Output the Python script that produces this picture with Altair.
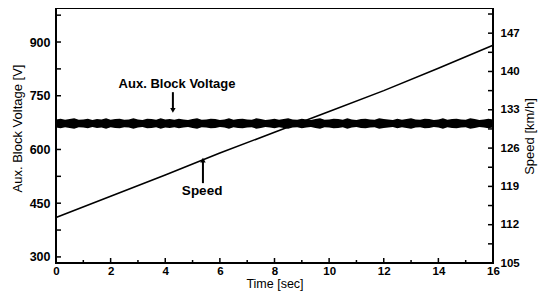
import altair as alt
import pandas as pd

# ---------------- data ----------------
volt_time = [i / 6 for i in range(97)]
volt_upper = [684, 686, 683, 685, 687, 683, 684, 686, 682, 685, 684, 687, 683, 685, 686, 683,
              684, 687, 684, 682, 686, 685, 683, 687, 684, 685, 683, 686, 684, 682, 685, 687,
              683, 684, 686, 685, 682, 684, 687, 683, 685, 686, 684, 683, 687, 685, 682, 684,
              686, 683, 685, 687, 684, 683, 686, 684, 682, 685, 687, 683, 684, 686, 685, 683,
              687, 684, 682, 685, 686, 684, 683, 687, 685, 684, 682, 686, 683, 685, 687, 684,
              683, 686, 685, 682, 684, 687, 683, 685, 686, 684, 683, 687, 685, 682, 684, 686, 684]
volt_lower = [661, 659, 662, 660, 658, 662, 661, 659, 663, 660, 661, 658, 662, 660, 659, 662,
              661, 658, 661, 663, 659, 660, 662, 658, 661, 660, 662, 659, 661, 663, 660, 658,
              662, 661, 659, 660, 663, 661, 658, 662, 660, 659, 661, 662, 658, 660, 663, 661,
              659, 662, 660, 658, 661, 662, 659, 661, 663, 660, 658, 662, 661, 659, 660, 662,
              658, 661, 663, 660, 659, 661, 662, 658, 660, 661, 663, 659, 662, 660, 658, 661,
              662, 659, 660, 663, 661, 658, 662, 660, 659, 661, 662, 658, 660, 663, 661, 659, 661]

speed_time = [0, 2, 4, 6, 8, 10, 12, 14, 16]
speed_kmh = [113.3, 117.2, 121.1, 125.1, 128.9, 132.7, 136.5, 140.6, 144.8]

x_label_vals = [0, 2, 4, 6, 8, 10, 12, 14, 16]
x_minor_vals = [1, 3, 5, 7, 9, 11, 13, 15]
yl_label_vals = [300, 450, 600, 750, 900]
yl_tick_vals = [300, 375, 450, 525, 600, 675, 750, 825, 900, 975]
yr_label_vals = [105, 112, 119, 126, 133, 140, 147]
yr_tick_vals = [105, 108.5, 112, 115.5, 119, 122.5, 126, 129.5, 133, 136.5, 140, 143.5, 147, 150.5]

ann_text = ["Aux. Block Voltage", "Speed"]
ann_t = [4.43, 5.35]
ann_v = [782, 485]

# ---------------- tables ----------------
df_v = pd.DataFrame({"t": volt_time, "hi": volt_upper, "lo": volt_lower})
df_s = pd.DataFrame({"t": speed_time, "s": speed_kmh})
df_xmaj = pd.DataFrame({"t": x_label_vals})
df_xmin = pd.DataFrame({"t": x_minor_vals})
df_ylt = pd.DataFrame({"v": yl_tick_vals})
df_yrt = pd.DataFrame({"s": yr_tick_vals})
df_ann1 = pd.DataFrame({"t": [ann_t[0]], "v": [ann_v[0]], "label": [ann_text[0]]})
df_ann2 = pd.DataFrame({"t": [ann_t[1]], "v": [ann_v[1]], "label": [ann_text[1]]})
df_arrow_shaft = pd.DataFrame({"t": [4.28, 5.38], "v": [760, 506], "v2": [712, 566]})
df_arrow_down = pd.DataFrame({"t": [4.28], "v": [709]})
df_arrow_up = pd.DataFrame({"t": [5.38], "v": [570]})

W, H = 437, 255
FONT = "Liberation Sans"

x_scale = alt.Scale(domain=[0, 16], nice=False, zero=False)
yl_scale = alt.Scale(domain=[283, 995], nice=False, zero=False)
yr_scale = alt.Scale(domain=[105, 151.6], nice=False, zero=False)

x_axis = alt.Axis(values=x_label_vals, ticks=False, domain=False, grid=False,
                  title="Time [sec]", labelFont=FONT, labelFontSize=11.5, labelFontWeight="bold",
                  labelPadding=2, labelFlush=False, labelOverlap=False, labelColor="black",
                  titleFont=FONT, titleFontSize=12.5, titleFontWeight="normal", titleColor="black",
                  titleY=20.5, titleBaseline="middle", format="d")
yl_axis = alt.Axis(values=yl_label_vals, ticks=False, domain=False, grid=False,
                   title="Aux. Block Voltage [V]", labelFont=FONT, labelFontSize=12.5,
                   labelFontWeight="bold", labelPadding=6, labelColor="black", labelFlush=False,
                   titleFont=FONT, titleFontSize=13, titleFontWeight="normal", titleColor="black",
                   titleX=-39, titleY=120, titleAngle=270, titleBaseline="middle", titleAlign="center",
                   format="d")
yr_axis = alt.Axis(orient="right", values=yr_label_vals, ticks=False, domain=False, grid=False,
                   title="Speed [km/h]", labelFont=FONT, labelFontSize=11.5, labelFontWeight="bold",
                   labelPadding=7, labelColor="black", labelFlush=False,
                   titleFont=FONT, titleFontSize=13, titleFontWeight="normal", titleColor="black",
                   titleX=36, titleY=128, titleAngle=270, titleBaseline="middle", titleAlign="center",
                   format="d")

X = alt.X("t:Q", scale=x_scale, axis=x_axis)

volt = alt.Chart(df_v).mark_area(color="black", interpolate="linear").encode(
    x=X, y=alt.Y("hi:Q", scale=yl_scale, axis=yl_axis), y2="lo:Q")

yl_ticks = alt.Chart(df_ylt).mark_rule(color="black", strokeWidth=1.5).encode(
    y=alt.Y("v:Q", scale=yl_scale, axis=yl_axis), x=alt.value(0), x2=alt.value(5))

x_major = alt.Chart(df_xmaj).mark_rule(color="black", strokeWidth=1.5).encode(
    x=X, y=alt.value(H), y2=alt.value(H - 5))
x_minor = alt.Chart(df_xmin).mark_rule(color="black", strokeWidth=1.5).encode(
    x=X, y=alt.value(H), y2=alt.value(H - 3))

ann1 = alt.Chart(df_ann1).mark_text(font=FONT, fontSize=13, fontWeight="bold", color="black").encode(
    x=X, y=alt.Y("v:Q", scale=yl_scale, axis=yl_axis), text="label:N")
ann2 = alt.Chart(df_ann2).mark_text(font=FONT, fontSize=13.5, fontWeight="bold", color="black").encode(
    x=X, y=alt.Y("v:Q", scale=yl_scale, axis=yl_axis), text="label:N")
shafts = alt.Chart(df_arrow_shaft).mark_rule(color="black", strokeWidth=2).encode(
    x=X, y=alt.Y("v:Q", scale=yl_scale, axis=yl_axis), y2="v2:Q")
head_down = alt.Chart(df_arrow_down).mark_point(shape="triangle-down", filled=True, color="black",
                                                size=30, opacity=1).encode(
    x=X, y=alt.Y("v:Q", scale=yl_scale, axis=yl_axis))
head_up = alt.Chart(df_arrow_up).mark_point(shape="triangle-up", filled=True, color="black",
                                            size=30, opacity=1).encode(
    x=X, y=alt.Y("v:Q", scale=yl_scale, axis=yl_axis))

left_group = alt.layer(volt, yl_ticks, x_major, x_minor, ann1, ann2, shafts, head_down, head_up)

speed = alt.Chart(df_s).mark_line(color="black", strokeWidth=1.6).encode(
    x=X, y=alt.Y("s:Q", scale=yr_scale, axis=yr_axis))
yr_ticks = alt.Chart(df_yrt).mark_rule(color="black", strokeWidth=1.5).encode(
    y=alt.Y("s:Q", scale=yr_scale, axis=yr_axis), x=alt.value(W - 5), x2=alt.value(W))

right_group = alt.layer(speed, yr_ticks)

chart = alt.layer(left_group, right_group).resolve_scale(y="independent").properties(
    width=W, height=H,
    padding={"left": 48, "top": 0, "right": 45, "bottom": 29},
    autosize=alt.AutoSizeParams(type="none"),
    background="white",
).configure_view(stroke="black", strokeWidth=2)

chart.save("out.html", embed_options={"renderer": "svg", "actions": False})
